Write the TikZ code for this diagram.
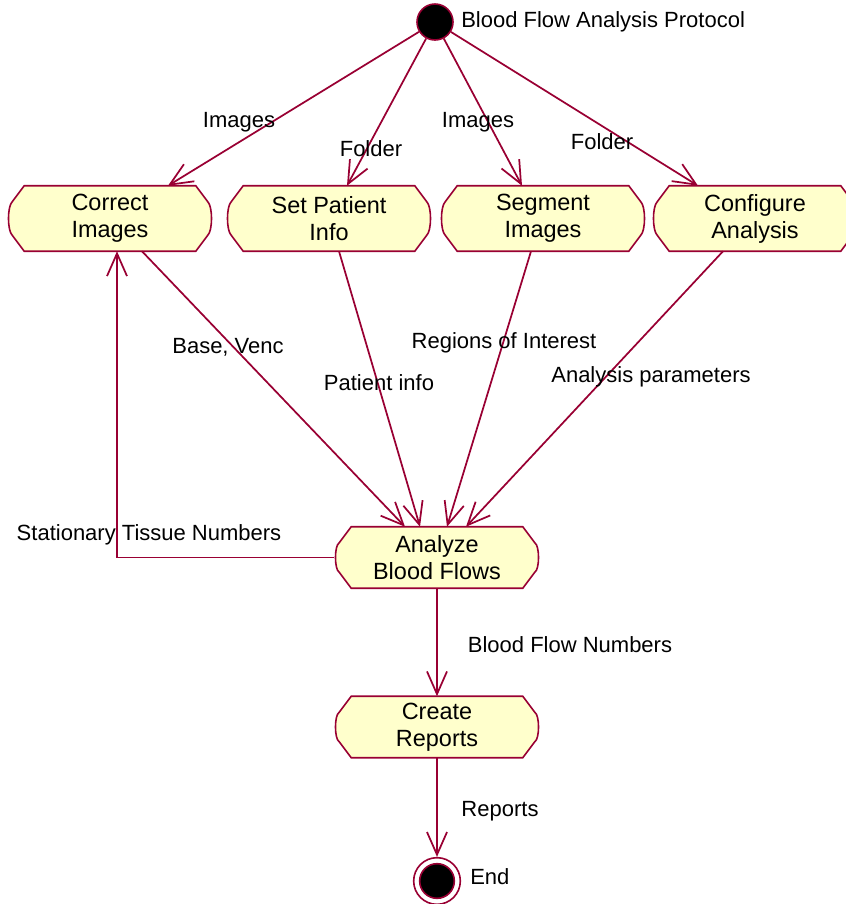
\documentclass[tikz,border=0pt]{standalone}
\usepackage{fontspec}
\setmainfont{Liberation Sans}
\usetikzlibrary{arrows.meta,positioning,calc,backgrounds}
\definecolor{actred}{RGB}{153,0,51}
\definecolor{actfill}{RGB}{255,255,204}

\tikzset{
  activity/.style={rectangle,minimum width=153.75pt,minimum height=48.75pt,
    inner sep=0pt,align=center,font=\fontsize{17.6}{20.25}\selectfont},
  actline/.style={draw=actred,fill=actfill,line width=1.2pt},
  flow/.style={draw=actred,line width=1.3pt,-{Straight Barb[length=17pt,width=15pt]}},
  lbl/.style={font=\fontsize{16.5}{20}\selectfont,inner sep=0pt}
}
% outline of an activity: cut corners, slightly bulging sides
\newcommand{\actoutline}[1]{%
  \filldraw[actline] ($(#1.north west)+(17,0)$) -- ($(#1.north east)+(-17,0)$)
    -- ($(#1.north east)+(-5,16)$) .. controls ($(#1.east)+(0,-12)$) and ($(#1.east)+(0,12)$) .. ($(#1.south east)+(-5,-16)$)
    -- ($(#1.south east)+(-17,0)$) -- ($(#1.south west)+(17,0)$)
    -- ($(#1.south west)+(5,-16)$) .. controls ($(#1.west)+(0,12)$) and ($(#1.west)+(0,-12)$) .. ($(#1.north west)+(5,16)$)
    -- cycle;}

\begin{document}
\begin{tikzpicture}[x=0.75pt,y=-0.75pt]
\useasboundingbox (0,0) rectangle (846,904);
% initial and final states
\node[circle,draw=actred,fill=black,line width=1.2pt,minimum size=27pt,inner sep=0pt] (start) at (435,22) {};
\node[lbl,anchor=west] (startlbl) at (461,22) {Blood Flow Analysis Protocol};
\node[circle,draw=actred,fill=white,line width=1.2pt,minimum size=35pt,inner sep=0pt] (end) at (437,881) {};
\node[circle,draw=actred,fill=black,line width=1.2pt,minimum size=26pt,inner sep=0pt] (endin) at (end) {};
\node[lbl,anchor=west] (endlbl) at (470,877) {End};
% activities
\node[activity] (correct) at (110,218.5) {Correct\\Images};
\node[activity] (patient) at (329,218.5) {Set Patient\\Info};
\node[activity] (segment) at (543,218.5) {Segment\\Images};
\node[activity] (config) at (755,218.5) {Configure\\Analysis};
\node[activity,minimum height=45.75pt] (analyze) at (437,557.5) {Analyze\\Blood Flows};
\node[activity,minimum height=45.75pt] (reports) at (437,727) {Create\\Reports};
\begin{scope}[on background layer]
\foreach \n in {correct,patient,segment,config,analyze,reports}
  {\actoutline{\n}}
\end{scope}
% from the start
\draw[flow] (start) -- ($(correct.north)+(58,0)$);
\draw[flow] (start) -- ($(patient.north)+(18,0)$);
\draw[flow] (start) -- ($(segment.north)+(-21,0)$);
\draw[flow] (start) -- ($(config.north)+(-57,0)$);
\node[lbl] (imgA) at (239,122) {Images};
\node[lbl] (fldA) at (371,149) {Folder};
\node[lbl] (imgB) at (478,122) {Images};
\node[lbl] (fldB) at (602,142) {Folder};
% into the analysis
\draw[flow] ($(correct.south)+(32,0)$) -- ($(analyze.north)+(-32,0)$);
\draw[flow] ($(patient.south)+(10,0)$) -- ($(analyze.north)+(-17,0)$);
\draw[flow] ($(segment.south)+(-12,0)$) -- ($(analyze.north)+(10,0)$);
\draw[flow] ($(config.south)+(-32,0)$) -- ($(analyze.north)+(29,0)$);
\node[lbl] (venc) at (228,347) {Base, Venc};
\node[lbl] (pinfo) at (379,383) {Patient info};
\node[lbl] (roi) at (504,343) {Regions of Interest};
\node[lbl] (params) at (651,377) {Analysis parameters};
% feedback
\draw[flow] (analyze.west) -| ($(correct.south)+(7,0)$);
\node[lbl] (tissue) at (149,535) {Stationary Tissue Numbers};
% results
\draw[flow] (analyze) -- (reports);
\node[lbl] (bfn) at (570,645) {Blood Flow Numbers};
\draw[flow] (reports) -- (end);
\node[lbl] (rep) at (500,811) {Reports};
\end{tikzpicture}
\end{document}
